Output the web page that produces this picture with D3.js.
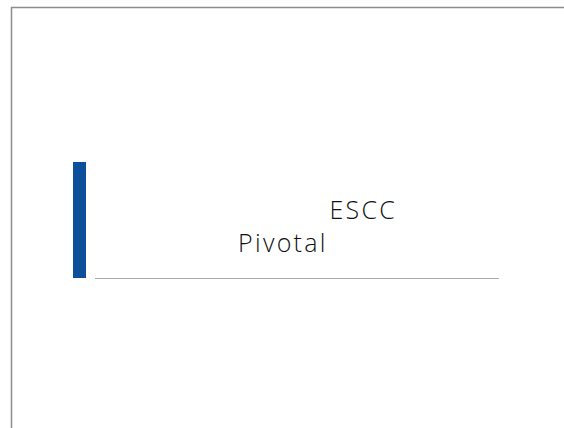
<!DOCTYPE html>
<html>
<head>
<meta charset="utf-8">
<script src="https://cdn.jsdelivr.net/npm/d3@7"></script>
<style>
html,body{margin:0;padding:0;background:#fff;}
svg{display:block;}
</style>
</head>
<body>
<svg id="chart" width="564" height="428"></svg>
<script>
// Title lines shown on the slide
const titleLines = ["ESCC", "Pivotal"];
const titleStartX = [329.5, 238];

const W = 564, H = 428;
const svg = d3.select("#chart");

// frame
svg.append("path")
  .attr("d", `M11.5,${H} L11.5,7.5 L${W},7.5`)
  .attr("fill", "none")
  .attr("stroke", "#8c8c8c")
  .attr("stroke-width", 1.5);

// accent bar
svg.append("rect")
  .attr("x", 73).attr("y", 162)
  .attr("width", 13).attr("height", 116)
  .attr("fill", "#0c4f9b");

// rule under title
svg.append("line")
  .attr("x1", 95).attr("x2", 499)
  .attr("y1", 278.5).attr("y2", 278.5)
  .attr("stroke", "#aaaaaa").attr("stroke-width", 1.2);

const y = d3.scalePoint().domain(d3.range(titleLines.length)).range([219, 251.5]);

svg.selectAll("text.title")
  .data(titleLines)
  .join("text")
  .attr("class", "title")
  .attr("x", (d, i) => titleStartX[i])
  .attr("y", (d, i) => y(i))
  .attr("text-anchor", "start")
  .attr("font-family", "'Open Sans', 'Noto Sans', sans-serif")
  .attr("font-weight", 300)
  .attr("font-size", 25)
  .attr("letter-spacing", 2.3)
  .attr("fill", "#111")
  .text(d => d);
</script>
</body>
</html>
